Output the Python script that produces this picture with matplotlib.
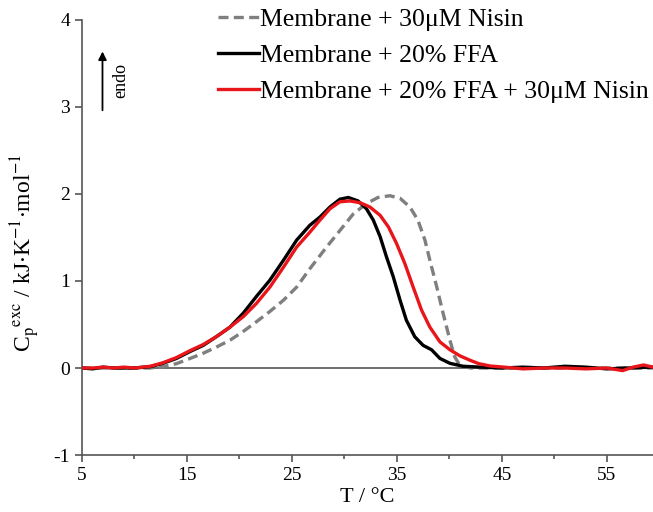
import numpy as np
import matplotlib
matplotlib.use("Agg")
import matplotlib.pyplot as plt

plt.rcParams['font.family'] = ['Liberation Serif', 'DejaVu Serif']
plt.rcParams['mathtext.fontset'] = 'stix'
plt.rcParams['axes.unicode_minus'] = False

# Membrane + 30uM Nisin (grey dashed)
t_nis = [5, 8, 10, 11.5, 12.7, 14.0, 15.3, 16.55, 17.8, 19.1, 20.36, 21.6, 22.9, 24.2, 25.45,
         26.7, 28.3, 29.57, 30.84, 32.1, 33.2, 34.33, 35.3, 36.24, 37.0, 37.67, 38.14, 38.8,
         39.4, 40.05, 40.5, 41, 42, 45, 50, 55, 59.4]
cp_nis = [0.0, 0.0, 0.0, 0.0, 0.015, 0.05, 0.11, 0.17, 0.24, 0.32, 0.42, 0.53, 0.65, 0.78, 0.93,
          1.14, 1.39, 1.58, 1.77, 1.89, 1.96, 1.98, 1.95, 1.85, 1.70, 1.47, 1.24, 0.93,
          0.63, 0.32, 0.13, 0.03, 0.0, 0.0, 0.0, 0.0, 0.0]

# Membrane + 20% FFA (black)
t_ffa = [5, 6, 7, 8, 9, 10, 11.5, 12.7, 14.0, 15.3, 16.55, 17.8, 19.1, 20.36, 21.6, 22.9, 24.2,
         25.45, 26.7, 27.67, 28.62, 29.57, 30.37, 31.3, 32.1, 32.75, 33.4, 34.0, 34.65, 35.3,
         35.9, 36.7, 37.5, 38.3, 39.1, 40.05, 41.3, 43, 45, 47, 49, 51, 53, 55, 57, 59.4]
cp_ffa = [0.0, -0.01, 0.01, 0.0, 0.0, 0.0, 0.015, 0.054, 0.11, 0.19, 0.26, 0.36, 0.47, 0.63, 0.82,
          1.01, 1.24, 1.47, 1.64, 1.735, 1.85, 1.94, 1.96, 1.92, 1.83, 1.70, 1.51, 1.28, 1.05, 0.78,
          0.55, 0.36, 0.26, 0.21, 0.11, 0.054, 0.02, 0.01, 0.0, 0.01, 0.0, 0.02, 0.01, -0.01, 0.0, 0.01]

# Membrane + 20% FFA + 30uM Nisin (red)
t_mix = [5, 6, 7, 8, 9, 10, 11.5, 12.7, 14.0, 15.3, 16.55, 17.8, 19.1, 20.36, 21.6, 22.9, 24.2,
         25.45, 26.7, 27.67, 28.62, 29.57, 30.52, 31.48, 32.43, 33.4, 34.2, 34.97, 35.76, 36.55,
         37.35, 38.14, 39.1, 40.05, 41.0, 41.95, 42.8, 43.9, 45.4, 47, 49, 51, 53, 55, 56.5,
         57.5, 58.5, 59.4]
cp_mix = [0.0, 0.0, 0.01, 0.0, 0.01, 0.0, 0.02, 0.06, 0.12, 0.2, 0.27, 0.36, 0.47, 0.59, 0.74,
          0.93, 1.16, 1.39, 1.56, 1.70, 1.83, 1.91, 1.92, 1.90, 1.85, 1.755, 1.62, 1.43, 1.20, 0.93,
          0.665, 0.47, 0.30, 0.21, 0.14, 0.09, 0.05, 0.023, 0.008, -0.01, 0.0, 0.0, -0.01, 0.0, -0.03,
          0.01, 0.035, 0.01]

labels = ['Membrane + 30\u03bcM Nisin',
          'Membrane + 20% FFA',
          'Membrane + 20% FFA + 30\u03bcM Nisin']

fig = plt.figure(figsize=(6.53, 5.12), dpi=100)
ax = fig.add_axes([0.1256, 0.1113, 0.8744, 0.8497])

ax.axhline(0, color='#555555', lw=1.2, zorder=1)
ax.plot(t_nis, cp_nis, color='#7f7f7f', lw=2.4, ls=(0, (3, 1.6)), label=labels[0], zorder=2)
ax.plot(t_ffa, cp_ffa, color='black', lw=2.4, label=labels[1], zorder=3)
ax.plot(t_mix, cp_mix, color='#e8161b', lw=2.4, label=labels[2], zorder=4)

ax.set_xlim(5, 59.4)
ax.set_ylim(-1, 4)
ax.set_xticks([5, 15, 25, 35, 45, 55])
ax.set_xticks([10, 20, 30, 40, 50], minor=True)
ax.set_yticks([-1, 0, 1, 2, 3, 4])
ax.spines['top'].set_visible(False)
ax.spines['right'].set_visible(False)
for s in ('left', 'bottom'):
    ax.spines[s].set_color('#555555')
    ax.spines[s].set_linewidth(1.2)
ax.tick_params(axis='both', which='major', labelsize=14, color='#555555', length=5, width=1.2)
ax.tick_params(axis='x', which='minor', length=3, width=1.2, color='#555555')

ax.set_xlabel('T / \u00b0C', fontsize=16, labelpad=3)
ax.set_ylabel(r'C$_\mathrm{p}$$^\mathrm{exc}$ / kJ$\cdot$K$^{-1}$$\cdot$mol$^{-1}$',
              fontsize=17)
ax.yaxis.set_label_coords(-0.07, 0.465)

ax.annotate('', xy=(6.95, 3.67), xytext=(6.95, 2.93),
            arrowprops=dict(arrowstyle='-|>', color='black', lw=1.3, mutation_scale=12))
ax.text(8.7, 3.3, 'endo', rotation=90, fontsize=13, ha='center', va='center')

ax.legend(loc='upper left', bbox_to_anchor=(0.22, 1.05), frameon=False, fontsize=18.5,
          handlelength=1.6, handletextpad=0.05, labelspacing=0.5, borderaxespad=0)

fig.savefig('out.png', dpi=100)
